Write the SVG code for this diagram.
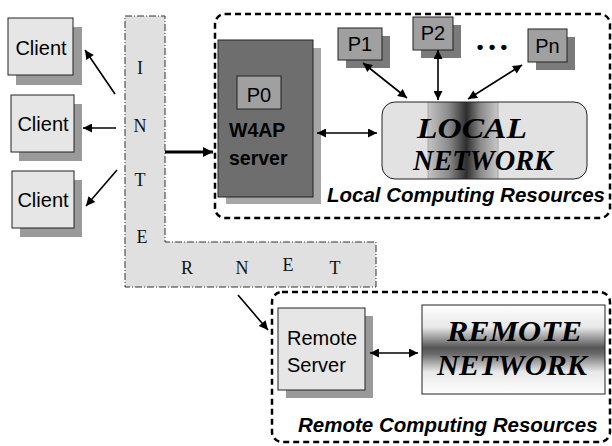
<svg xmlns="http://www.w3.org/2000/svg" width="612" height="446" viewBox="0 0 612 446">
<style>
.sans{font-family:"Liberation Sans",Arial,sans-serif}
.serif{font-family:"Liberation Serif","Times New Roman",serif}
.box{stroke:#222;stroke-width:1}
.shadow{fill:#9a9a9a}
.client{fill:#e6e6e6}
.proc{fill:#a0a0a0}
.pshadow{fill:#7a7a7a}
.dash{fill:none;stroke:#000;stroke-width:2.5;stroke-dasharray:6 4}
.conn{stroke:#000;stroke-width:1.6;fill:none}
.lbl{font-size:20px}
.letter{font-size:18px;fill:#111}
.res{font-size:20.5px;font-weight:bold;font-style:italic}
.big{font-weight:bold;font-style:italic}
</style>
<defs>
<marker id="ah" viewBox="0 0 10 10" refX="10" refY="5" markerWidth="13" markerHeight="9" markerUnits="userSpaceOnUse" orient="auto-start-reverse">
<path d="M0,0 L10,5 L0,10 Z" fill="#000"/>
</marker>
<marker id="ahb" viewBox="0 0 10 10" refX="10" refY="5" markerWidth="11" markerHeight="10" markerUnits="userSpaceOnUse" orient="auto">
<path d="M0,0 L10,5 L0,10 Z" fill="#000"/>
</marker>
<linearGradient id="lband" x1="0" y1="0" x2="1" y2="0">
<stop offset="0" stop-color="#c4c4c4"/>
<stop offset="0.3" stop-color="#8a8a8a"/>
<stop offset="0.55" stop-color="#2e2e2e"/>
<stop offset="0.75" stop-color="#8a8a8a"/>
<stop offset="1" stop-color="#c8c8c8"/>
</linearGradient>
<linearGradient id="rgrad" x1="0" y1="0" x2="0" y2="1">
<stop offset="0" stop-color="#ffffff"/>
<stop offset="0.25" stop-color="#e8e8e8"/>
<stop offset="0.48" stop-color="#555555"/>
<stop offset="0.55" stop-color="#6a6a6a"/>
<stop offset="0.75" stop-color="#e8e8e8"/>
<stop offset="1" stop-color="#ffffff"/>
</linearGradient>
<clipPath id="lclip"><rect x="382" y="102" width="205" height="77" rx="13"/></clipPath>
</defs>

<g id="internet">
<path d="M125,16 H165 V242 H376 V287 H125 Z" fill="#e0e0e0" stroke="#333" stroke-width="1" stroke-dasharray="7 2 1 2"/>
<text class="serif letter" x="140" y="74" text-anchor="middle">I</text>
<text class="serif letter" x="140" y="132" text-anchor="middle">N</text>
<text class="serif letter" x="140" y="186" text-anchor="middle">T</text>
<text class="serif letter" x="142" y="243" text-anchor="middle">E</text>
<text class="serif letter" x="187" y="274" text-anchor="middle">R</text>
<text class="serif letter" x="242" y="274" text-anchor="middle">N</text>
<text class="serif letter" x="288" y="271" text-anchor="middle">E</text>
<text class="serif letter" x="335" y="274" text-anchor="middle">T</text>
</g>

<g id="client1">
<rect class="shadow" x="16" y="27" width="66" height="58"/>
<rect class="client box" x="8" y="18" width="65" height="57"/>
<text class="sans lbl" x="41" y="55" text-anchor="middle">Client</text>
</g>
<g id="client2">
<rect class="shadow" x="19" y="104" width="63" height="57"/>
<rect class="client box" x="11" y="95" width="63" height="57"/>
<text class="sans lbl" x="43" y="131" text-anchor="middle">Client</text>
</g>
<g id="client3">
<rect class="shadow" x="20" y="180" width="62" height="57"/>
<rect class="client box" x="12" y="171" width="62" height="57"/>
<text class="sans lbl" x="43" y="207" text-anchor="middle">Client</text>
</g>

<g id="local-resources">
<rect class="dash" x="215" y="14" width="395" height="204" rx="10"/>
<text class="sans res" x="327" y="202">Local Computing Resources</text>
</g>

<g id="w4ap-server">
<rect x="226" y="48" width="95" height="156" fill="#a6a6a6"/>
<rect x="218" y="40" width="95" height="157" fill="#6e6e6e" stroke="#222" stroke-width="1"/>
<rect class="proc box" x="237" y="76" width="44" height="33"/>
<text class="sans lbl" x="259" y="102" text-anchor="middle">P0</text>
<text class="sans" x="229" y="137" font-size="19.5" font-weight="bold">W4AP</text>
<text class="sans" x="229" y="165" font-size="19.5" font-weight="bold">server</text>
</g>

<g id="p1">
<rect class="pshadow" x="346" y="36" width="44" height="32"/>
<rect class="proc box" x="338" y="28" width="44" height="32"/>
<text class="sans lbl" x="360" y="51" text-anchor="middle">P1</text>
</g>
<g id="p2">
<rect class="pshadow" x="421" y="25" width="40" height="33"/>
<rect class="proc box" x="413" y="17" width="40" height="33"/>
<text class="sans lbl" x="433" y="40" text-anchor="middle">P2</text>
</g>
<g id="dots">
<text class="sans" x="492" y="53" font-size="19" font-weight="bold" text-anchor="middle">• • •</text>
</g>
<g id="pn">
<rect class="pshadow" x="536" y="37" width="39" height="33"/>
<rect class="proc box" x="528" y="29" width="39" height="33"/>
<text class="sans lbl" x="547.5" y="53" text-anchor="middle">Pn</text>
</g>

<g id="local-network">
<rect x="382" y="102" width="205" height="77" rx="13" fill="#e2e2e2"/>
<rect x="428" y="100" width="70" height="82" fill="url(#lband)" clip-path="url(#lclip)"/>
<line x1="428" y1="102" x2="428" y2="179" stroke="#999" stroke-width="0.8"/>
<line x1="498" y1="102" x2="498" y2="179" stroke="#999" stroke-width="0.8"/>
<rect x="382" y="102" width="205" height="77" rx="13" fill="none" stroke="#222" stroke-width="1"/>
<text class="serif big" x="417" y="138" font-size="29" textLength="110" lengthAdjust="spacingAndGlyphs">LOCAL</text>
<text class="serif big" x="413" y="170" font-size="29" textLength="140" lengthAdjust="spacingAndGlyphs">NETWORK</text>
</g>

<g id="remote-resources">
<rect class="dash" x="272" y="292" width="338" height="150" rx="10"/>
<text class="sans res" x="298" y="432">Remote Computing Resources</text>
</g>

<g id="remote-server">
<rect class="shadow" x="286" y="316" width="87" height="82"/>
<rect class="client box" x="278" y="308" width="87" height="82" fill="#ececec"/>
<text class="sans lbl" x="287" y="345">Remote</text>
<text class="sans lbl" x="287" y="372">Server</text>
</g>

<g id="remote-network">
<rect x="422" y="305" width="183" height="89" fill="url(#rgrad)" stroke="#222" stroke-width="1"/>
<text class="serif big" x="447" y="341" font-size="30" textLength="135" lengthAdjust="spacingAndGlyphs">REMOTE</text>
<text class="serif big" x="437" y="375" font-size="30" textLength="150" lengthAdjust="spacingAndGlyphs">NETWORK</text>
</g>

<g id="connectors">
<line class="conn" x1="115" y1="94" x2="85" y2="50" marker-end="url(#ah)"/>
<line class="conn" x1="116" y1="128" x2="83" y2="128" marker-end="url(#ah)"/>
<line class="conn" x1="117" y1="170" x2="86" y2="206" marker-end="url(#ah)"/>
<line x1="165" y1="152" x2="213" y2="152" stroke="#000" stroke-width="3" marker-end="url(#ahb)"/>
<line class="conn" x1="317" y1="133" x2="377" y2="133" marker-start="url(#ah)" marker-end="url(#ah)"/>
<line class="conn" x1="363" y1="63" x2="407" y2="98" marker-start="url(#ah)" marker-end="url(#ah)"/>
<line class="conn" x1="438" y1="50" x2="438" y2="100" marker-start="url(#ah)" marker-end="url(#ah)"/>
<line class="conn" x1="522" y1="65" x2="468" y2="99" marker-start="url(#ah)" marker-end="url(#ah)"/>
<line class="conn" x1="238" y1="295" x2="268" y2="330" marker-end="url(#ah)"/>
<line class="conn" x1="370" y1="353" x2="418" y2="353" marker-start="url(#ah)" marker-end="url(#ah)"/>
</g>
</svg>
